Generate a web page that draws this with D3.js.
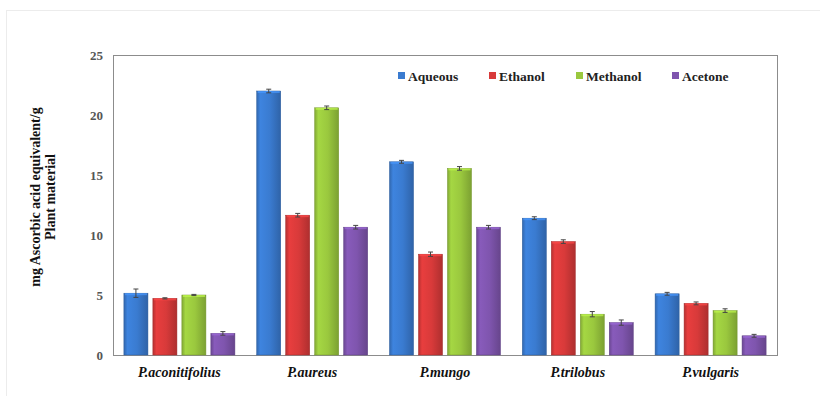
<!DOCTYPE html>
<html>
<head>
<meta charset="utf-8">
<script src="https://cdn.jsdelivr.net/npm/d3@7"></script>
<style>
  html, body { margin: 0; padding: 0; background: #fff; }
  svg { display: block; }
  svg text { font-family: 'Liberation Serif', 'DejaVu Serif', serif; }
</style>
</head>
<body>
<div id="chart"></div>
<script>
(function () {
    'use strict';

    // values
    const categories = ['P.aconitifolius', 'P.aureus', 'P.mungo', 'P.trilobus', 'P.vulgaris'];
    const seriesNames = ['Aqueous', 'Ethanol', 'Methanol', 'Acetone'];
    const seriesColors = ['#3a7bd0', '#d83a3a', '#9ac83e', '#7f55ae'];
    const aqueous = [5.15, 22.0, 16.1, 11.4, 5.1];
    const ethanol = [4.72, 11.65, 8.4, 9.45, 4.3];
    const methanol = [5.0, 20.6, 15.55, 3.4, 3.7];
    const acetone = [1.8, 10.65, 10.65, 2.7, 1.6];
    const aqueousErr = [0.35, 0.15, 0.12, 0.12, 0.12];
    const ethanolErr = [0.05, 0.15, 0.18, 0.15, 0.12];
    const methanolErr = [0.05, 0.15, 0.15, 0.22, 0.15];
    const acetoneErr = [0.15, 0.15, 0.15, 0.22, 0.12];
    const yTicks = [0, 5, 10, 15, 20, 25];

    const values = [aqueous, ethanol, methanol, acetone];
    const errors = [aqueousErr, ethanolErr, methanolErr, acetoneErr];

    const FONT = "'Liberation Serif', 'DejaVu Serif', serif";
    const W = 820, H = 396;
    const margin = {top: 55, right: 43, bottom: 41, left: 113};
    const cW = W - margin.left - margin.right;
    const cH = H - margin.top - margin.bottom;

    const svg = d3.select('#chart').append('svg').attr('width', W).attr('height', H);

    // faint outer card border
    svg.append('rect')
        .attr('x', 6.5).attr('y', 10.5).attr('width', W).attr('height', H)
        .attr('fill', 'none').attr('stroke', '#ececec').attr('stroke-width', 1);

    // bar shading gradients, one per series
    const defs = svg.append('defs');
    seriesColors.forEach((c, i) => {
        const base = d3.color(c);
        const grad = defs.append('linearGradient')
            .attr('id', 'grad' + i).attr('x1', '0%').attr('x2', '100%').attr('y1', '0%').attr('y2', '0%');
        grad.append('stop').attr('offset', '0%').attr('stop-color', base.darker(0.5));
        grad.append('stop').attr('offset', '15%').attr('stop-color', base.brighter(0.2));
        grad.append('stop').attr('offset', '55%').attr('stop-color', base);
        grad.append('stop').attr('offset', '100%').attr('stop-color', base.darker(0.6));
    });

    const g = svg.append('g').attr('transform', `translate(${margin.left},${margin.top})`);

    const x0 = d3.scaleBand().domain(categories).range([0, cW]).paddingInner(0.164).paddingOuter(0.082);
    const x1 = d3.scaleBand().domain(seriesNames).range([0, x0.bandwidth()]).paddingInner(0.17);
    const y = d3.scaleLinear().domain([0, 25]).range([cH, 0]);

    // plot border
    g.append('rect')
        .attr('x', 0.5).attr('y', 0.5).attr('width', cW).attr('height', cH)
        .attr('fill', 'none').attr('stroke', '#8c8c8c').attr('stroke-width', 1);

    // y axis labels
    g.append('g')
        .call(d3.axisLeft(y).tickValues(yTicks).tickSize(0).tickPadding(10))
        .call(gg => gg.select('.domain').remove())
        .selectAll('text')
        .style('font-family', FONT)
        .style('font-size', '13px').style('font-weight', 'bold').attr('fill', '#555');

    // x axis labels
    g.append('g').attr('transform', `translate(0,${cH})`)
        .call(d3.axisBottom(x0).tickSize(0).tickPadding(12))
        .call(gg => gg.select('.domain').remove())
        .selectAll('text')
        .style('font-family', FONT)
        .style('font-size', '14px').style('font-weight', 'bold').style('font-style', 'italic')
        .attr('fill', '#111');

    // bars
    categories.forEach((cat, ci) => {
        seriesNames.forEach((s, si) => {
            const v = values[si][ci];
            const e = errors[si][ci];
            const bx = x0(cat) + x1(s);
            const bw = x1.bandwidth();
            g.append('rect')
                .attr('x', bx).attr('y', y(v))
                .attr('width', bw).attr('height', y(0) - y(v))
                .attr('fill', `url(#grad${si})`)
                .attr('stroke', d3.color(seriesColors[si]).darker(0.8)).attr('stroke-width', 0.5);
            // top highlight
            g.append('rect')
                .attr('x', bx + 1).attr('y', y(v))
                .attr('width', bw - 2).attr('height', 2)
                .attr('fill', d3.color(seriesColors[si]).brighter(0.6)).attr('opacity', 0.7);
            // error bar
            const cx = bx + bw / 2;
            const eg = g.append('g').attr('stroke', '#444').attr('stroke-width', 1);
            eg.append('line').attr('x1', cx).attr('x2', cx).attr('y1', y(v + e)).attr('y2', y(v - e));
            [v + e, v - e].forEach(t => {
                eg.append('line').attr('x1', cx - 2.5).attr('x2', cx + 2.5).attr('y1', y(t)).attr('y2', y(t));
            });
        });
    });

    // legend
    const legendX = [398, 489, 576, 672];
    const legend = svg.append('g');
    seriesNames.forEach((s, i) => {
        legend.append('rect')
            .attr('x', legendX[i]).attr('y', 72)
            .attr('width', 7).attr('height', 7)
            .attr('fill', seriesColors[i]);
        legend.append('text')
            .attr('x', legendX[i] + 10).attr('y', 81)
            .style('font-family', FONT)
            .style('font-size', '13.5px').style('font-weight', 'bold').attr('fill', '#222')
            .text(s);
    });

    // y axis title
    const yTitle = svg.append('text')
        .attr('transform', `translate(40,${margin.top + cH / 2 - 8}) rotate(-90)`)
        .attr('text-anchor', 'middle')
        .style('font-family', FONT)
        .style('font-size', '14px').style('font-weight', 'bold').attr('fill', '#111');
    yTitle.append('tspan').attr('x', 0).attr('dy', 0).text('mg Ascorbic acid equivalent/g');
    yTitle.append('tspan').attr('x', 0).attr('dy', 15).text('Plant material');
})();
</script>
</body>
</html>
